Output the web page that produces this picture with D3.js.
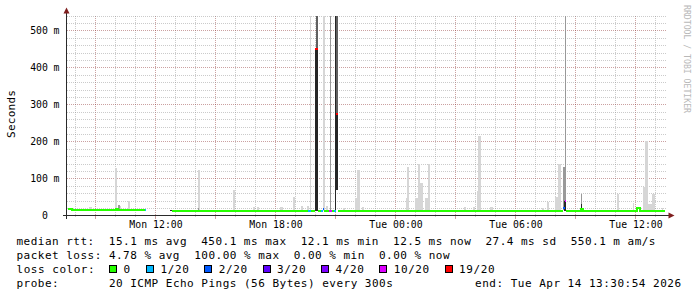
<!DOCTYPE html>
<html>
<head>
<meta charset="utf-8">
<script src="https://cdn.jsdelivr.net/npm/d3@7"></script>
<style>
body { margin: 0; background: #fff; }
svg text { font-family: "DejaVu Sans Mono", monospace; white-space: pre; }
</style>
</head>
<body>
<svg id="chart" width="697" height="297"></svg>
<script>

// time is counted in hours from Mon 00:00
var xTickHours = [12, 18, 24, 30, 36];
var xTickLabels = ['Mon 12:00', 'Mon 18:00', 'Tue 00:00', 'Tue 06:00', 'Tue 12:00'];
var yTickValues = [0, 100, 200, 300, 400, 500];
var yTickLabels = ['0', '100 m', '200 m', '300 m', '400 m', '500 m'];

var lossColors = ['#26ff00', '#00b8ff', '#0059ff', '#5e00ff', '#7e00ff', '#dd00ff', '#ff0000'];
var lossLabels = ['0', '1/20', '2/20', '3/20', '4/20', '10/20', '19/20'];

// median rtt steps: [start hour, ms, loss bucket], null ms = no data
var medianSteps = [
	[7.60, 17.0, 0],
	[7.80, 15.5, 0],
	[10.00, 16.5, 0],
	[10.10, 15.5, 0],
	[10.75, 14.5, 0],
	[11.47, 14.5, 1],
	[11.53, null, 0],
	[12.83, 12.5, 0],
	[19.60, 12.5, 1],
	[19.78, 12.5, 0],
	[19.98, 450, 6],
	[20.10, 12.5, 0],
	[20.28, 13.5, 1],
	[20.38, 17.0, 2],
	[20.44, 12.5, 0],
	[20.68, 12.5, 5],
	[20.82, 12.5, 0],
	[20.94, 12.5, 1],
	[21.00, 12.5, 0],
	[21.04, 273, 6],
	[21.12, 12.5, 0],
	[32.36, 19.0, 2],
	[32.48, 38.0, 5],
	[32.54, 12.5, 0],
	[33.26, 18.0, 0],
	[33.36, 12.5, 0],
	[36.08, 21.0, 0],
	[36.24, 12.5, 0],
	[37.48, null, 0]
];

// smoke bands: [start hour, end hour, low ms, high ms]
var smokeLight = [
	[8.65, 8.80, 14, 22],
	[9.95, 10.08, 14, 128],
	[10.10, 10.25, 14, 25],
	[10.62, 10.72, 14, 40],
	[14.12, 14.24, 13, 122],
	[15.87, 15.99, 13, 70],
	[16.87, 16.99, 13, 22],
	[17.07, 17.17, 13, 22],
	[18.22, 18.37, 13, 24],
	[18.85, 18.99, 13, 51],
	[19.27, 19.39, 13, 27],
	[19.57, 19.67, 13, 27],
	[19.72, 19.77, 13, 550],
	[20.37, 20.47, 13, 550],
	[20.52, 20.62, 13, 25],
	[21.37, 21.47, 13, 20],
	[21.97, 22.07, 13, 46],
	[22.07, 22.22, 13, 124],
	[22.32, 22.42, 13, 22],
	[24.52, 24.59, 13, 46],
	[24.59, 24.69, 13, 132],
	[24.99, 25.10, 13, 46],
	[25.10, 25.22, 13, 140],
	[25.22, 25.35, 13, 87],
	[25.49, 25.60, 13, 46],
	[25.60, 25.72, 13, 140],
	[27.42, 27.52, 13, 22],
	[27.87, 27.97, 13, 22],
	[28.07, 28.14, 13, 67],
	[28.14, 28.27, 13, 216],
	[28.72, 28.87, 13, 22],
	[31.32, 31.42, 13, 20],
	[31.59, 31.69, 13, 36],
	[31.97, 32.14, 13, 51],
	[32.14, 32.27, 13, 140],
	[35.09, 35.19, 13, 58],
	[35.85, 35.94, 13, 35],
	[36.35, 36.49, 13, 76],
	[36.49, 36.60, 13, 200],
	[36.60, 36.80, 13, 32],
	[36.80, 36.97, 13, 58],
	[37.30, 37.39, 13, 20]
];
var smokeMid = [
	[10.10, 10.22, 13, 29],
	[14.12, 14.19, 13, 21],
	[20.72, 20.77, 13, 550],
	[32.35, 32.47, 16, 130],
	[32.47, 32.52, 13, 550],
	[33.25, 33.34, 16, 58]
];
var smokeDark = [
	[20.03, 20.13, 450, 550],
	[21.04, 21.12, 273, 550]
];
var smokeBlack = [
	[10.05, 10.10, 15, 18],
	[12.72, 12.83, 11, 14],
	[19.95, 20.13, 13, 450],
	[20.99, 21.04, 13, 550],
	[21.04, 21.12, 68, 273],
	[32.41, 32.50, 13, 40],
	[33.27, 33.34, 13, 30]
];

var legendRtt = 'median rtt:  15.1 ms avg  450.1 ms max  12.1 ms min  12.5 ms now  27.4 ms sd  550.1 m am/s';
var legendLoss = 'packet loss: 4.78 % avg  100.00 % max  0.00 % min  0.00 % now';
var legendColor = 'loss color:';
var legendProbe = 'probe:       20 ICMP Echo Pings (56 Bytes) every 300s';
var legendEnd = 'end: Tue Apr 14 13:30:54 2026';

var svg = d3.select('#chart');
var charW = 7.1;

var x = d3.scaleLinear().domain([7.6, 37.6]).range([67.5, 667.5]);
var y = d3.scaleLinear().domain([0, 540]).range([215.5, 15.5]).clamp(true);

var minorGrid = 'rgba(140,140,140,0.45)';
var majorGrid = 'rgba(130,30,30,0.42)';

// grid
var grid = svg.append('g').attr('shape-rendering', 'crispEdges');
d3.range(8, 38).forEach(function(h) {
	var major = h % 3 == 0;
	grid.append('line')
		.attr('x1', x(h)).attr('x2', x(h))
		.attr('y1', 15.5).attr('y2', 215)
		.attr('stroke', major ? majorGrid : minorGrid)
		.attr('stroke-dasharray', '1,1');
	grid.append('line')
		.attr('x1', x(h)).attr('x2', x(h))
		.attr('y1', 215).attr('y2', major ? 219 : 217)
		.attr('stroke', major ? majorGrid : minorGrid);
});
d3.range(20, 541, 20).forEach(function(v) {
	var major = v % 100 == 0;
	grid.append('line')
		.attr('x1', 67).attr('x2', 667)
		.attr('y1', Math.round(y(v)) + 0.5).attr('y2', Math.round(y(v)) + 0.5)
		.attr('stroke', major ? majorGrid : minorGrid)
		.attr('stroke-dasharray', '1,1');
});

// smoke
function drawSmoke(list, color) {
	svg.append('g')
		.attr('shape-rendering', 'crispEdges')
		.selectAll('rect')
		.data(list)
		.enter()
		.append('rect')
		.attr('x', function(d) { return x(d[0]); })
		.attr('width', function(d) { return Math.max(1, x(d[1]) - x(d[0])); })
		.attr('y', function(d) { return y(d[3]); })
		.attr('height', function(d) { return y(d[2]) - y(d[3]); })
		.attr('fill', color);
}
drawSmoke(smokeLight, '#d6d6d6');
drawSmoke(smokeMid, '#999999');
drawSmoke(smokeDark, '#606060');
drawSmoke(smokeBlack, '#262626');

// median, one stepped line per run of equal loss
var runs = [];
for (var i = 0; i < medianSteps.length - 1; i++) {
	var s = medianSteps[i];
	if (s[1] === null) continue;
	var last = runs[runs.length - 1];
	if (last && last.loss == s[2] && last.end == s[0]) {
		last.pts.push([s[0], s[1]]);
	} else {
		last = { loss: s[2], pts: [[s[0], s[1]]] };
		runs.push(last);
	}
	last.end = medianSteps[i + 1][0];
}
runs.forEach(function(r) { r.pts.push([r.end, r.pts[r.pts.length - 1][1]]); });

var medianLine = d3.line()
	.x(function(d) { return x(d[0]); })
	.y(function(d) { return y(d[1]); })
	.curve(d3.curveStepAfter);

svg.append('g')
	.selectAll('path')
	.data(runs)
	.enter()
	.append('path')
	.attr('d', function(d) { return medianLine(d.pts); })
	.attr('fill', 'none')
	.attr('stroke', function(d) { return lossColors[d.loss]; })
	.attr('stroke-width', 2)
	.attr('shape-rendering', 'crispEdges');

// axes lines and arrows
var axisColor = '#2a2a2a';
svg.append('line').attr('x1', 63).attr('x2', 669).attr('y1', 215.5).attr('y2', 215.5)
	.attr('stroke', axisColor).attr('shape-rendering', 'crispEdges');
svg.append('line').attr('x1', 66.5).attr('x2', 66.5).attr('y1', 219).attr('y2', 12)
	.attr('stroke', axisColor).attr('shape-rendering', 'crispEdges');
svg.append('path').attr('d', 'M63.5,13.5L69.5,13.5L66.5,7.5Z').attr('fill', '#7f1f1f');
svg.append('path').attr('d', 'M668.5,212.5L668.5,218.5L674.5,215.5Z').attr('fill', '#7f1f1f');

// tick labels
var xAxis = d3.axisBottom(x)
	.tickValues(xTickHours)
	.tickFormat(function(d, i) { return xTickLabels[i]; })
	.tickSize(0);
var gx = svg.append('g').attr('transform', 'translate(0,' + 219 + ')').call(xAxis);
gx.select('.domain').remove();
gx.selectAll('text')
	.attr('y', 0).attr('dy', '9.3px')
	.attr('fill', '#000')
	.style('font-size', '9.8px')
	.style('font-family', '"DejaVu Sans Mono", monospace')
	.attr('textLength', 53.3);

var yAxis = d3.axisLeft(y)
	.tickValues(yTickValues)
	.tickFormat(function(d, i) { return yTickLabels[i]; })
	.tickSize(0);
var gy = svg.append('g').attr('transform', 'translate(59.5,0)').call(yAxis);
gy.select('.domain').remove();
gy.selectAll('text')
	.attr('x', function(d) { return d == 0 ? -11.7 : 0; })
	.attr('dy', '3.4px')
	.attr('fill', '#000')
	.style('font-size', '9.8px')
	.style('font-family', '"DejaVu Sans Mono", monospace')
	.attr('textLength', function(d, i) { return yTickLabels[i].length * 5.86; });

// y label
svg.append('text')
	.attr('transform', 'translate(15,114) rotate(-90)')
	.attr('text-anchor', 'middle')
	.style('font-size', '11px')
	.attr('textLength', 48)
	.text('Seconds');

// watermark
svg.append('text')
	.attr('transform', 'translate(683.5,5) rotate(90)')
	.style('font-size', '8.2px')
	.attr('fill', '#b8b8b8')
	.attr('textLength', 108)
	.text('RRDTOOL / TOBI OETIKER');

// legend
function legendText(str, px, py) {
	return svg.append('text')
		.attr('xml:space', 'preserve')
		.attr('x', px).attr('y', py)
		.style('font-size', '11px')
		.attr('textLength', str.length * charW)
		.attr('lengthAdjust', 'spacing')
		.text(str);
}
legendText(legendRtt, 16.5, 245);
legendText(legendLoss, 16.5, 258.9);
legendText(legendColor, 16.5, 272.7);
legendText(legendProbe, 16.5, 286.5);
legendText(legendEnd, 0, 286.5).attr('x', 681).attr('text-anchor', 'end');

var lx = 109;
lossLabels.forEach(function(lab, i) {
	svg.append('rect')
		.attr('x', lx + 0.5).attr('y', 265.5)
		.attr('width', 7).attr('height', 7)
		.attr('fill', lossColors[i])
		.attr('stroke', '#000')
		.attr('shape-rendering', 'crispEdges');
	legendText(lab, lx + 14.5, 272.7);
	lx += 14.5 + lab.length * charW + 15.4;
});

</script>
</body>
</html>
